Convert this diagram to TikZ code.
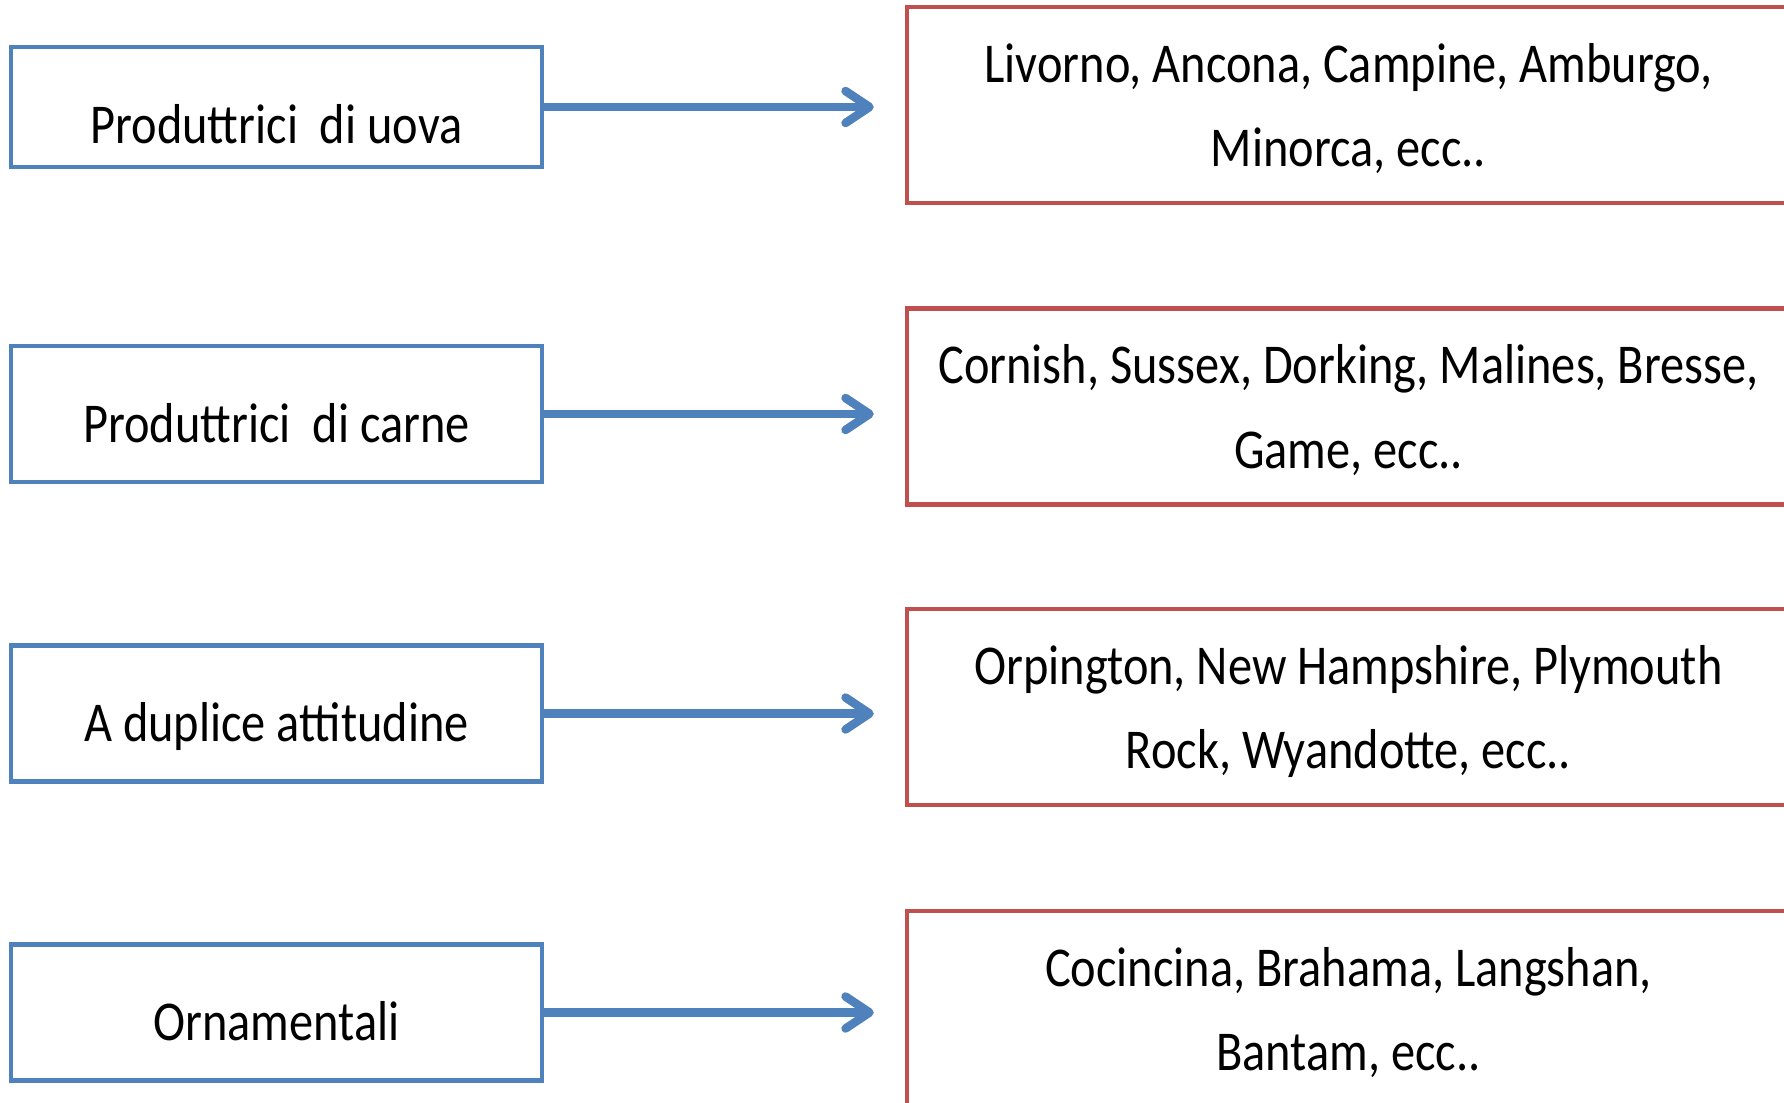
\documentclass[tikz,border=0pt]{standalone}
\usepackage{xcolor}
\usepackage{fontspec}
\setmainfont{Carlito}[FakeStretch=0.86]
\usepackage{tikz}
\usetikzlibrary{arrows.meta, positioning}
\definecolor{boxblue}{HTML}{4F81BD}
\definecolor{boxred}{HTML}{C0504D}
\tikzstyle{category} = [rectangle, draw=boxblue, line width=0.45mm, minimum width=5.31cm, inner sep=0pt, text height=9.6mm, text depth=4mm, text centered]
\tikzstyle{breeds} = [rectangle, draw=boxred, line width=0.45mm, minimum width=8.83cm, minimum height=1.96cm, align=center, text depth=-1.2mm]
\tikzstyle{arrow} = [draw=boxblue, line width=0.85mm, -{Straight Barb[length=2.4mm, width=3.2mm, round]}, shorten >=3.1mm]

\begin{document}
\begin{tikzpicture}[font=\fontsize{16}{24}\selectfont]
        \useasboundingbox (0,0) rectangle (17.84,-11.02);
        \clip (0,0) rectangle (17.84,-11.02);

        \node[category, text depth=2.4mm] (uova) at (2.765, -1.07) {Produttrici\ \ di uova};
        \node[category] (carne) at (2.765, -4.14) {Produttrici\ \ di carne};
        \node[category] (duplice) at (2.765, -7.135) {A duplice attitudine};
        \node[category] (ornam) at (2.765, -10.125) {Ornamentali};

        \node[breeds] (razze1) at (13.485, -1.05) {Livorno, Ancona, Campine, Amburgo,\\Minorca, ecc..};
        \node[breeds] (razze2) at (13.485, -4.065) {Cornish, Sussex, Dorking, Malines, Bresse,\\Game, ecc..};
        \node[breeds] (razze3) at (13.485, -7.07) {Orpington, New Hampshire, Plymouth\\Rock, Wyandotte, ecc..};
        \node[breeds] (razze4) at (13.485, -10.09) {Cocincina, Brahama, Langshan,\\Bantam, ecc..};

        \draw[arrow] (uova.east) -- (uova.east -| razze1.west);
        \draw[arrow] (carne.east) -- (carne.east -| razze2.west);
        \draw[arrow] (duplice.east) -- (duplice.east -| razze3.west);
        \draw[arrow] (ornam.east) -- (ornam.east -| razze4.west);
    \end{tikzpicture}
\end{document}
